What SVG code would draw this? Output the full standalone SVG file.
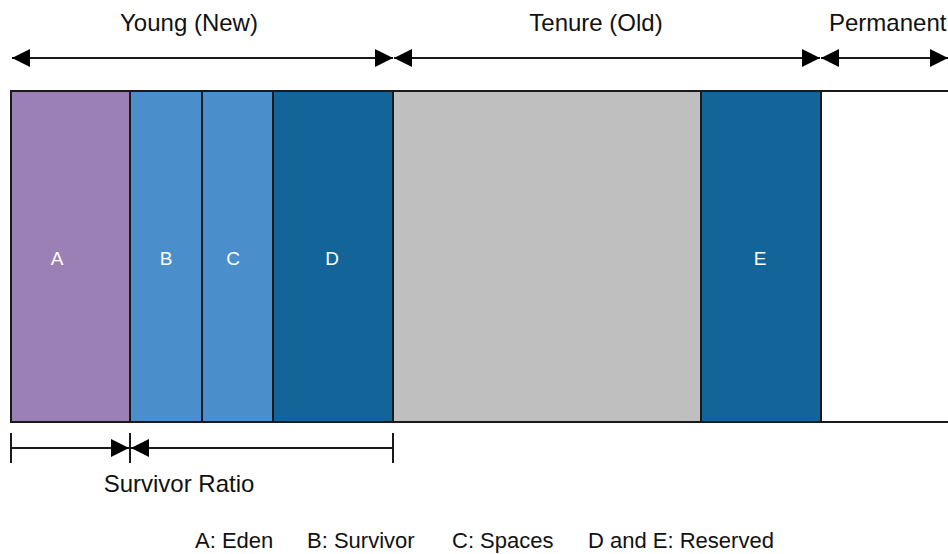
<svg xmlns="http://www.w3.org/2000/svg" width="948" height="554" viewBox="0 0 948 554">
  <style>
    .lbl { font-family: "Liberation Sans", Arial, sans-serif; font-size: 24px; fill: #111; }
    .leg { font-family: "Liberation Sans", Arial, sans-serif; font-size: 22px; fill: #111; }
    .seg { stroke: #1a1a1a; stroke-width: 2; }
    .cell { font-family: "Liberation Sans", Arial, sans-serif; font-size: 19px; fill: #ffffff; text-anchor: middle; }
    .conn { stroke: #1a1a1a; stroke-width: 2; fill: none; }
  </style>
  <defs>
    <marker id="headL" viewBox="0 0 10 10" refX="10" refY="5" markerWidth="18" markerHeight="20" markerUnits="userSpaceOnUse" orient="auto-start-reverse">
      <path d="M0,0 L10,5 L0,10 Z" fill="#000"/>
    </marker>
  </defs>

  <!-- heap segments -->
  <g id="eden"><rect class="seg" x="11" y="91" width="119" height="331" fill="#9b80b6"/><text class="cell" x="57" y="265">A</text></g>
  <g id="survivor"><rect class="seg" x="130" y="91" width="72" height="331" fill="#4a8fcb"/><text class="cell" x="166" y="265">B</text></g>
  <g id="spaces"><rect class="seg" x="202" y="91" width="71" height="331" fill="#4a8fcb"/><text class="cell" x="233" y="265">C</text></g>
  <g id="reserved-young"><rect class="seg" x="273" y="91" width="120" height="331" fill="#136499"/><text class="cell" x="332" y="265">D</text></g>
  <g id="tenure"><rect class="seg" x="393" y="91" width="308" height="331" fill="#bfbfbf"/></g>
  <g id="reserved-old"><rect class="seg" x="701" y="91" width="120" height="331" fill="#136499"/><text class="cell" x="760" y="265">E</text></g>
  <g id="permanent"><path class="seg" d="M821,91 H950 M821,422 H950" fill="none"/></g>

  <!-- generation labels -->
  <text class="lbl" x="189" y="31" text-anchor="middle">Young (New)</text>
  <text class="lbl" x="596" y="31" text-anchor="middle">Tenure (Old)</text>
  <text class="lbl" x="829" y="31">Permanent</text>

  <g id="connectors">
    <line class="conn" x1="12" y1="58" x2="393" y2="58" marker-start="url(#headL)" marker-end="url(#headL)"/>
    <line class="conn" x1="394" y1="58" x2="820" y2="58" marker-start="url(#headL)" marker-end="url(#headL)"/>
    <line class="conn" x1="821" y1="58" x2="948" y2="58" marker-start="url(#headL)" marker-end="url(#headL)"/>

    <!-- survivor ratio dimension -->
    <line class="conn" x1="11" y1="433" x2="11" y2="463"/>
    <line class="conn" x1="130" y1="433" x2="130" y2="463"/>
    <line class="conn" x1="393" y1="433" x2="393" y2="463"/>
    <line class="conn" x1="11" y1="448" x2="129" y2="448" marker-end="url(#headL)"/>
    <line class="conn" x1="131" y1="448" x2="393" y2="448" marker-start="url(#headL)"/>
  </g>

  <text class="lbl" x="179" y="492" text-anchor="middle">Survivor Ratio</text>

  <!-- legend -->
  <g class="leg">
    <text x="195" y="548">A: Eden</text>
    <text x="307" y="548">B: Survivor</text>
    <text x="452" y="548">C: Spaces</text>
    <text x="588" y="548">D and E: Reserved</text>
  </g>
</svg>
